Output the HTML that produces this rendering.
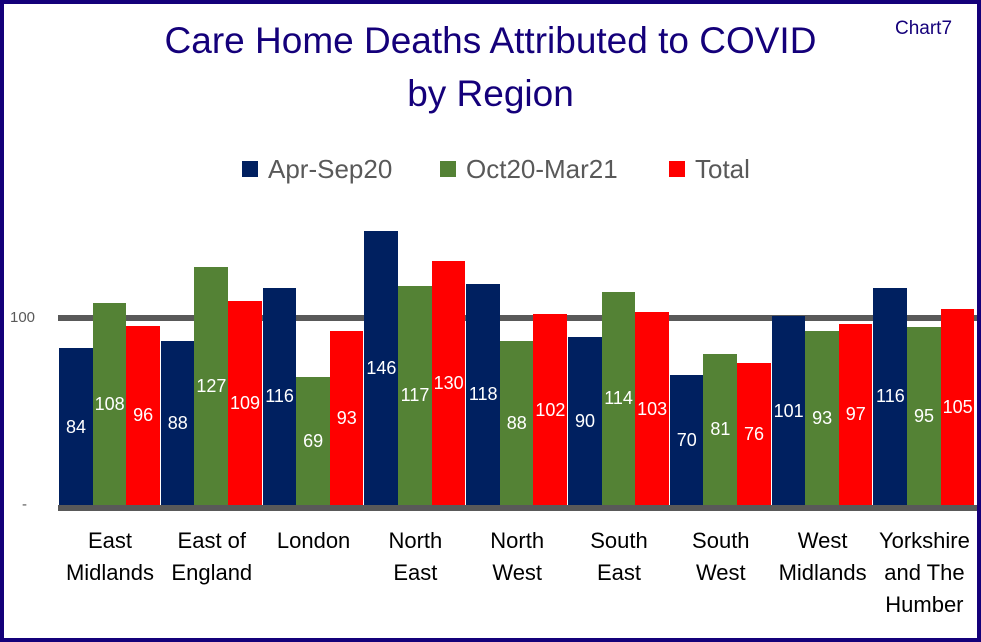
<!DOCTYPE html>
<html><head><meta charset="utf-8"><style>
body{margin:0;background:#fff}
#c{position:relative;width:981px;height:642px;box-sizing:border-box;border:4px solid #14007a;background:#fff;font-family:"Liberation Sans",sans-serif;overflow:hidden}
.t{position:absolute;left:0;width:981px;text-align:center;color:#14007a;font-size:37px}
.b{position:absolute;bottom:131px;width:34px}
.v{position:absolute;color:#fff;font-size:18px;width:40px;text-align:center}
.cat{position:absolute;top:521px;width:104px;text-align:center;font-size:22px;line-height:32px;color:#000}
.lg{position:absolute;top:150px;font-size:26px;color:#595959}
.sw{display:inline-block;width:16px;height:16px;margin-right:10px;vertical-align:1px}
</style></head><body><div id="c"></div>
<script>
const c=document.getElementById('c');let h='';
h+='<div class="t" style="top:16px;left:-4px">Care Home Deaths Attributed to COVID</div>';
h+='<div class="t" style="top:69px;left:-4px">by Region</div>';
h+='<div style="position:absolute;left:891px;top:14px;color:#14007a;font-size:19px">Chart7</div>';
h+='<div class="lg" style="left:238px"><span class="sw" style="background:#002060"></span>Apr-Sep20</div>';
h+='<div class="lg" style="left:436px"><span class="sw" style="background:#548235"></span>Oct20-Mar21</div>';
h+='<div class="lg" style="left:665px"><span class="sw" style="background:#f00"></span>Total</div>';
h+='<div style="position:absolute;left:54px;top:311px;width:922px;height:6px;background:#595959"></div>';
h+='<div style="position:absolute;left:6px;top:305px;font-size:15px;color:#595959">100</div>';
h+='<div style="position:absolute;left:18px;top:492px;font-size:15px;color:#595959">-</div>';
const d=[[84,108,96],[88,127,109],[116,69,93],[146,117,130],[118,88,102],[90,114,103],[70,81,76],[101,93,97],[116,95,105]];
const n=["East<br>Midlands","East of<br>England","London","North<br>East","North<br>West","South<br>East","South<br>West","West<br>Midlands","Yorkshire<br>and The<br>Humber"];
const col=["#002060","#548235","#f00"];
d.forEach((g,i)=>{const x0=55+i*101.8;
g.forEach((v,j)=>{const x=x0+j*33.6,hh=v*1.89;
h+=`<div class="b" style="left:${x}px;width:${33.6}px;height:${hh}px;background:${col[j]}"></div>`;
h+=`<div class="v" style="left:${x-3}px;top:${503-hh/2-11}px">${v}</div>`;});
h+=`<div class="cat" style="left:${x0-1}px">${n[i]}</div>`;});
h+='<div style="position:absolute;left:54px;top:501px;width:922px;height:6px;background:#595959"></div>';
c.innerHTML=h;
</script></body></html>
